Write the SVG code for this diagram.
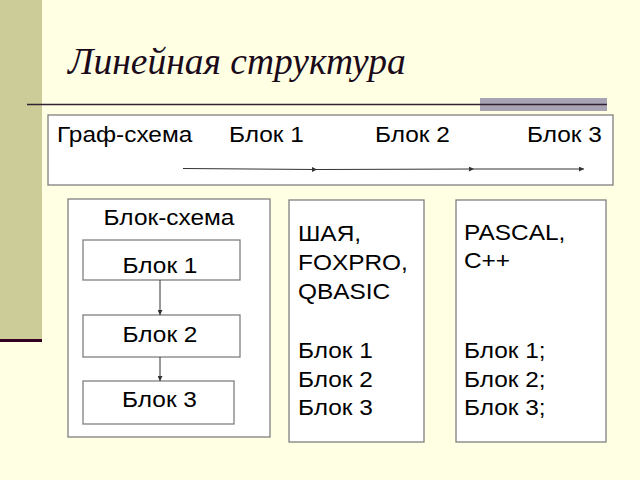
<svg xmlns="http://www.w3.org/2000/svg" width="640" height="480" viewBox="0 0 640 480">
<defs>
<style>
.t{font-family:"Liberation Sans",Arial,sans-serif;font-size:22px;fill:#000;transform-box:fill-box;transform-origin:0 0;transform:scale(1.11,1)}
.m{text-anchor:middle;transform-origin:50% 50%}
.box{fill:#fff;stroke:#808080;stroke-width:1.3}
.c{stroke:#333;stroke-width:1;fill:none;marker-end:url(#ah)}
</style>
<marker id="ah" viewBox="0 0 6 6" refX="6" refY="3" markerWidth="5" markerHeight="5" orient="auto" markerUnits="userSpaceOnUse"><path d="M0,0 L6,3 L0,6 Z" fill="#333"/></marker>
</defs>
<rect width="640" height="480" fill="#FFFFE3"/>
<rect x="0" y="0" width="42" height="340" fill="#CCCC99"/>
<rect x="0" y="339" width="42" height="3" fill="#330022"/>
<rect x="480" y="98" width="127" height="13" fill="#A8A4B4"/>
<line x1="27" y1="104.5" x2="607" y2="104.5" stroke="#332233" stroke-width="1.5"/>
<text x="68" y="74" style="font-family:'Liberation Serif','Times New Roman',serif;font-style:italic;font-size:37.5px;fill:#1a0a1a">Линейная структура</text>
<g id="graph">
<rect class="box" x="48" y="115" width="565" height="70"/>
<text class="t" x="57" y="142">Граф-схема</text>
<text class="t" x="229" y="142">Блок 1</text>
<text class="t" x="375" y="142">Блок 2</text>
<text class="t" x="527" y="142">Блок 3</text>
</g>
<g id="blockscheme">
<rect class="box" x="68" y="199" width="202" height="238"/>
<text class="t m" x="169" y="225">Блок-схема</text>
</g>
<g id="b1"><rect class="box" x="83" y="240" width="157" height="40"/><text class="t m" x="160" y="273">Блок 1</text></g>
<g id="b2"><rect class="box" x="83" y="315" width="157" height="42"/><text class="t m" x="160" y="342">Блок 2</text></g>
<g id="b3"><rect class="box" x="83" y="381" width="151" height="43"/><text class="t m" x="159.5" y="407">Блок 3</text></g>
<g id="lang1">
<rect class="box" x="289" y="200" width="135" height="242"/>
<text class="t" x="298" y="241">ШАЯ,</text>
<text class="t" x="298" y="270">FOXPRO,</text>
<text class="t" x="298" y="299">QBASIC</text>
<text class="t" x="298" y="358">Блок 1</text>
<text class="t" x="298" y="387">Блок 2</text>
<text class="t" x="298" y="415">Блок 3</text>
</g>
<g id="lang2">
<rect class="box" x="456" y="200" width="150" height="242"/>
<text class="t" x="464" y="240">PASCAL,</text>
<text class="t" x="464" y="268">C++</text>
<text class="t" x="464" y="358">Блок 1;</text>
<text class="t" x="464" y="387">Блок 2;</text>
<text class="t" x="464" y="415">Блок 3;</text>
</g>
<g id="connectors">
<line class="c" x1="183" y1="168.5" x2="317" y2="169.5"/>
<line class="c" x1="317" y1="169.5" x2="474" y2="169"/>
<line class="c" x1="474" y1="169" x2="584" y2="169"/>
<line class="c" x1="160" y1="280" x2="160" y2="315"/>
<line class="c" x1="160" y1="357" x2="160" y2="381"/>
</g>
</svg>
